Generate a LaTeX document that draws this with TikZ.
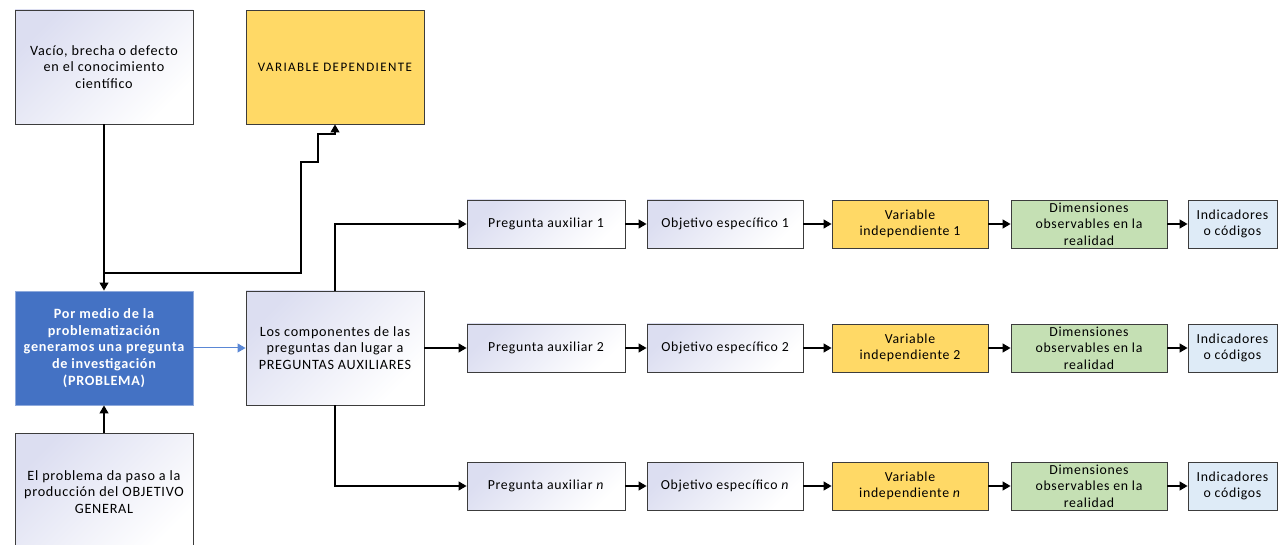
\documentclass[tikz,border=0pt]{standalone}
\usepackage{fontspec}
\setmainfont{Carlito}[LetterSpace=5]
\newfontfamily\vdfont{Carlito}[LetterSpace=11]
\usetikzlibrary{arrows.meta}
\definecolor{lav}{RGB}{220,222,241}
\definecolor{bcol}{RGB}{60,60,60}
\definecolor{yel}{RGB}{255,217,102}
\definecolor{grn}{RGB}{197,224,180}
\definecolor{lblue}{RGB}{222,235,247}
\definecolor{pblue}{RGB}{68,114,196}
\definecolor{pborder}{RGB}{143,170,220}
\definecolor{ablue}{RGB}{90,135,213}
\begin{document}
\begin{tikzpicture}[x=1pt,y=-1pt,
  box/.style={draw=bcol, line width=0.9pt, inner sep=2pt, align=center,
    font=\fontsize{14.2}{16.7}\selectfont, text=black},
  wbox/.style={box, top color=lav, bottom color=white, shading angle=45},
  ybox/.style={box, fill=yel},
  gbox/.style={box, fill=grn},
  lbox/.style={box, fill=lblue},
  big/.style={minimum width=178pt, minimum height=114pt},
  rowbox/.style={minimum height=48pt, font=\fontsize{13.8}{16.4}\selectfont},
  conn/.style={draw=black, line width=1.2pt, -{Triangle[length=8pt,width=9pt]}},
  line/.style={draw=black, line width=1.2pt}
]
\useasboundingbox (0,0) rectangle (1280,545);
\clip (0,0) rectangle (1280,545);

\node[wbox, big] (gap) at (104,67) {Vacío, brecha o defecto\\en el conocimiento\\científico};
\node[ybox, big, font=\vdfont\fontsize{13}{16}\selectfont] (vd) at (335,67) {VARIABLE DEPENDIENTE};
\node[box, big, fill=pblue, draw=pborder, text=white, font=\fontsize{14.2}{16.7}\selectfont\bfseries] (prob) at (104,348) {Por medio de la\\problematización\\generamos una pregunta\\de investigación\\(PROBLEMA)};
\node[wbox, minimum width=178pt, minimum height=118pt] (gen) at (104,492) {El problema da paso a la\\producción del OBJETIVO\\GENERAL};
\node[wbox, big] (comp) at (335,348) {Los componentes de las\\preguntas dan lugar a\\PREGUNTAS AUXILIARES};

\foreach \r/\y/\k in {1/224/1, 2/348/2, 3/486/{\textit{n}}} {
  \node[wbox, rowbox, minimum width=158pt] (p\r) at (546,\y) {Pregunta auxiliar \k};
  \node[wbox, rowbox, minimum width=156pt] (o\r) at (725,\y) {Objetivo específico \k};
  \node[ybox, rowbox, minimum width=156pt] (v\r) at (910,\y) {Variable\\independiente \k};
  \node[gbox, rowbox, minimum width=156pt] (d\r) at (1089,\y) {Dimensiones\\observables en la\\realidad};
  \node[lbox, rowbox, minimum width=89pt] (i\r) at (1232.5,\y) {Indicadores\\o códigos};
  \draw[conn] (p\r) -- (o\r);
  \draw[conn] (o\r) -- (v\r);
  \draw[conn] (v\r) -- (d\r);
  \draw[conn] (d\r) -- (i\r);
}

\coordinate (j) at (104,273);
\draw[conn] (gap.south) -- (prob.north);
\draw[conn] (j) -- (301,273) -- (301,162) -- (318,162) -- (318,134) -- (vd.south |- 0,134) -- (vd.south);
\draw[conn] (gen.north) -- (prob.south);
\draw[conn, draw=ablue, line width=1pt] (prob.east) -- (comp.west);
\draw[conn] (comp.north) |- (p1.west);
\draw[conn] (comp.east) -- (p2.west);
\draw[conn] (comp.south) |- (p3.west);
\end{tikzpicture}
\end{document}
